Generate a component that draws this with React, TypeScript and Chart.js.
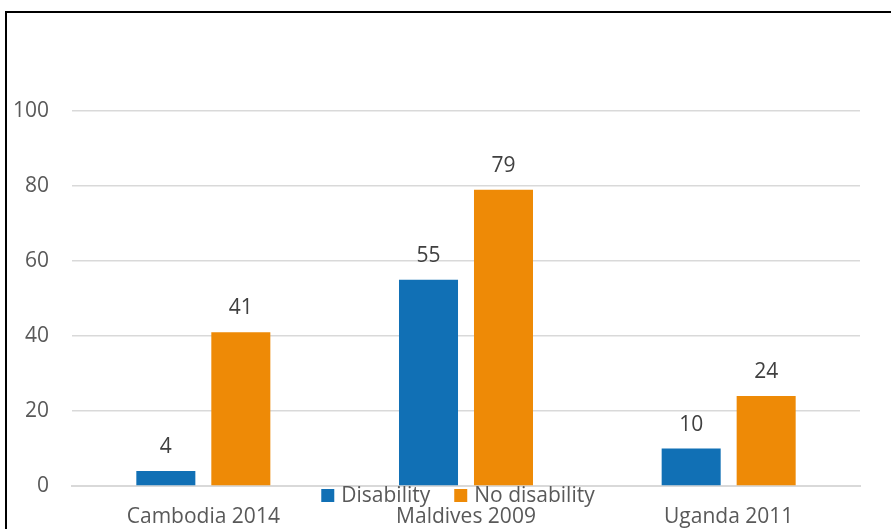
import React, { useEffect, useRef } from "react";
import { Chart, registerables } from "chart.js";

Chart.register(...registerables);

const categories = ["Cambodia 2014", "Maldives 2009", "Uganda 2011"];
const seriesNames = ["Disability", "No disability"];
const disability = [4, 55, 10];
const noDisability = [41, 79, 24];
const yTickValues = [0, 20, 40, 60, 80, 100];
const seriesColors = ["#1170b5", "#ee8a06"];

const FONT = "'Open Sans', 'Liberation Sans', sans-serif";

const dataLabelPlugin = {
  id: "dataLabels",
  afterDatasetsDraw(chart: any) {
    const ctx = chart.ctx;
    ctx.save();
    ctx.font = `21px ${FONT}`;
    ctx.fillStyle = "#404040";
    ctx.textAlign = "center";
    ctx.textBaseline = "alphabetic";
    chart.data.datasets.forEach((ds: any, i: number) => {
      const meta = chart.getDatasetMeta(i);
      meta.data.forEach((bar: any, j: number) => {
        ctx.fillText(String(ds.data[j]), bar.x, bar.y - 18);
      });
    });
    ctx.restore();
  },
};

const legendPlugin = {
  id: "customLegend",
  afterDraw(chart: any) {
    const ctx = chart.ctx;
    ctx.save();
    ctx.font = `21px ${FONT}`;
    ctx.textBaseline = "middle";
    ctx.textAlign = "left";
    const box = 13;
    const gapBoxText = 7;
    const gapItems = 24;
    const items = chart.data.datasets.map((ds: any) => ({
      label: ds.label,
      color: ds.backgroundColor,
      w: ctx.measureText(ds.label).width,
    }));
    const total =
      items.reduce((s: number, it: any) => s + box + gapBoxText + it.w, 0) +
      gapItems * (items.length - 1);
    let x = 458 - total / 2;
    const yMid = 495.5;
    items.forEach((it: any) => {
      ctx.fillStyle = it.color;
      ctx.fillRect(x, yMid - box / 2, box, box);
      x += box + gapBoxText;
      ctx.fillStyle = "#595959";
      ctx.fillText(it.label, x, yMid + 1);
      x += it.w + gapItems;
    });
    ctx.restore();
  },
};

export default function App() {
  const ref = useRef<HTMLCanvasElement | null>(null);

  useEffect(() => {
    if (!ref.current) return;
    const chart = new Chart(ref.current, {
      type: "bar",
      data: {
        labels: categories,
        datasets: [
          {
            label: seriesNames[0],
            data: disability,
            backgroundColor: seriesColors[0],
            categoryPercentage: 0.571,
            barPercentage: 0.787,
          },
          {
            label: seriesNames[1],
            data: noDisability,
            backgroundColor: seriesColors[1],
            categoryPercentage: 0.571,
            barPercentage: 0.787,
          },
        ],
      },
      options: {
        responsive: false,
        animation: false,
        layout: { padding: { top: 111, right: 31, left: 0, bottom: 0 } },
        plugins: {
          legend: { display: false },
          tooltip: { enabled: false },
        },
        scales: {
          x: {
            grid: { display: false, drawTicks: false },
            border: { display: true, color: "#d9d9d9", width: 2 },
            ticks: {
              color: "#595959",
              font: { family: FONT, size: 21 },
              padding: 18,
              maxRotation: 0,
            },
            afterFit(scale: any) {
              scale.height = 43;
            },
          },
          y: {
            min: 0,
            max: 100,
            afterBuildTicks(scale: any) {
              scale.ticks = yTickValues.map((v) => ({ value: v }));
            },
            grid: { color: "#d9d9d9", lineWidth: 1.5, drawTicks: false },
            border: { display: false },
            ticks: {
              color: "#595959",
              font: { family: FONT, size: 21 },
              padding: 23,
            },
            afterFit(scale: any) {
              scale.width = 72;
            },
          },
        },
      },
      plugins: [dataLabelPlugin, legendPlugin],
    });
    return () => chart.destroy();
  }, []);

  return (
    <div
      style={{
        position: "fixed",
        left: 0,
        top: 0,
        width: 891,
        height: 529,
        overflow: "hidden",
        background: "#fff",
      }}
    >
      <div
        style={{
          position: "absolute",
          left: 5,
          top: 11,
          width: 2000,
          height: 2000,
          border: "2px solid #000",
        }}
      />
      <canvas
        ref={ref}
        width={891}
        height={529}
        style={{ position: "absolute", left: 0, top: 0 }}
      />
    </div>
  );
}
